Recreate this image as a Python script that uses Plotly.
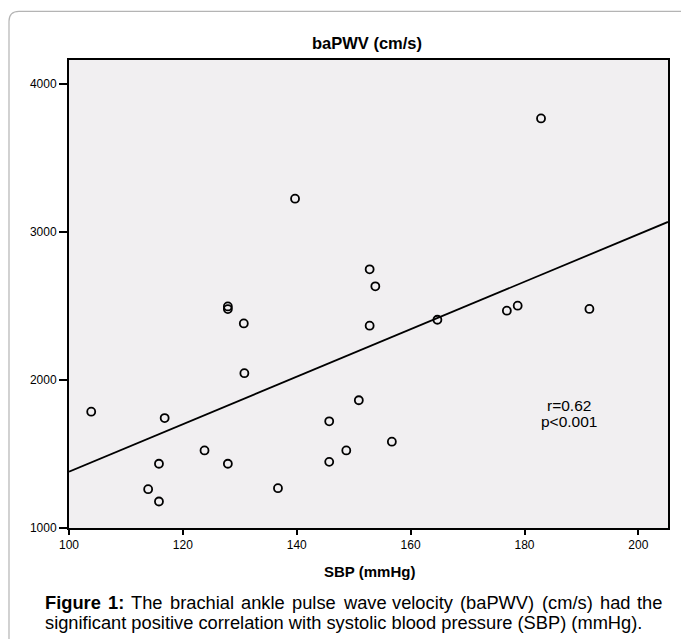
import plotly.graph_objects as go

# Data
sbp = [139.7, 152.8, 153.8, 182.9, 127.9, 127.9, 130.7, 152.8, 130.8, 103.9,
       116.8, 150.9, 145.7, 123.8, 148.7, 115.8, 127.9, 145.7, 113.9, 115.8,
       136.7, 164.7, 176.9, 178.8, 191.4, 156.7]
bapwv = [3225, 2748, 2633, 3767, 2497, 2479, 2382, 2367, 2046, 1786,
         1743, 1863, 1721, 1524, 1524, 1434, 1434, 1447, 1262, 1179,
         1269, 2407, 2468, 2502, 2480, 1583]
fit_x = [100, 205.2]
fit_y = [1381, 3068]
x_ticks = [100, 120, 140, 160, 180, 200]
y_ticks = [1000, 2000, 3000, 4000]

title_text = "baPWV (cm/s)"
xtitle_text = "SBP (mmHg)"
stat_lines = ["r=0.62", "p<0.001"]
caption_bold = "Figure 1:"
caption_line1 = "The brachial ankle pulse wave velocity (baPWV) (cm/s) had the"
caption_line2 = "significant positive correlation with systolic blood pressure (SBP) (mmHg)."

W, H = 681, 639
L, R, T, B = 69.3, 668.3, 60.3, 527.7

def px(xp):
    return (xp - L) / (R - L)

def py(yp):
    return (B - yp) / (B - T)

# Arial / Liberation Sans advance widths (1/1000 em) for justification
REG = {" ": 278, "(": 333, ")": 333, ".": 278, ",": 278, "/": 278, ":": 278,
       "<": 584, "=": 584}
REG.update({d: 556 for d in "0123456789"})
REG.update(dict(zip("ABCDEFGHIJKLMNOPQRSTUVWXYZ",
                    [667, 667, 722, 722, 667, 611, 778, 722, 278, 500, 667, 556, 833,
                     722, 778, 667, 778, 722, 667, 611, 722, 667, 944, 667, 667, 611])))
REG.update(dict(zip("abcdefghijklmnopqrstuvwxyz",
                    [556, 556, 500, 556, 556, 278, 556, 556, 222, 222, 500, 222, 833,
                     556, 556, 556, 556, 333, 500, 278, 556, 500, 722, 500, 500, 500])))
BOLD = dict(REG)
BOLD.update({":": 333, "i": 278, "g": 611, "u": 611, "r": 389, "F": 611})

def text_w(s, size, bold=False):
    tab = BOLD if bold else REG
    return sum(tab.get(c, 556) for c in s) * size / 1000.0

font = "Liberation Sans, Arial, sans-serif"

fig = go.Figure()
fig.add_trace(go.Scatter(x=fit_x, y=fit_y, mode="lines",
                         line=dict(color="black", width=1.8),
                         hoverinfo="skip", showlegend=False))
fig.add_trace(go.Scatter(x=sbp, y=bapwv, mode="markers",
                         marker=dict(symbol="circle-open", size=8,
                                     color="black", line=dict(width=1.8)),
                         showlegend=False))

fig.update_layout(
    width=W, height=H,
    margin=dict(l=L, r=W - R, t=T, b=H - B, pad=0),
    paper_bgcolor="white",
    plot_bgcolor="#f1eff1",
    font=dict(family=font, color="black", size=12),
    xaxis=dict(range=[100, 205.2], tickvals=x_ticks, ticks="outside",
               ticklen=5, tickwidth=1.5, tickcolor="black",
               showline=True, linecolor="black", linewidth=2, mirror=True,
               showgrid=False, zeroline=False,
               tickfont=dict(size=12, family=font)),
    yaxis=dict(range=[1000, 4162], tickvals=y_ticks, ticks="outside",
               ticklen=8, tickwidth=1.5, tickcolor="black",
               showline=True, linecolor="black", linewidth=2, mirror=True,
               showgrid=False, zeroline=False,
               tickfont=dict(size=12, family=font)),
    showlegend=False,
)

# Outer rounded frame
x0, y0, r = 9.3, 11.7, 10
path = (f"M {px(x0)},{py(H + 5)} L {px(x0)},{py(y0 + r)} "
        f"Q {px(x0)},{py(y0)} {px(x0 + r)},{py(y0)} L {px(W + 5)},{py(y0)}")
fig.add_shape(type="path", path=path, xref="paper", yref="paper",
              line=dict(color="#b4b4b4", width=1.2))

ann = []
ann.append(dict(text=f"<b>{title_text}</b>", x=px(367), y=py(43.5),
                font=dict(size=16.5, family=font)))
ann.append(dict(text=f"<b>{xtitle_text}</b>", x=px(370), y=py(571.5),
                font=dict(size=15, family=font)))
ann.append(dict(text=stat_lines[0], x=px(569.3), y=py(405),
                font=dict(size=15.5, family=font)))
ann.append(dict(text=stat_lines[1].replace("<", "&lt;"), x=px(569.3), y=py(421.7),
                font=dict(size=15.5, family=font)))

# Caption: first line justified word by word, second line left aligned
cap_size = 18.3
cap_left, cap_right = 44, 662
words = [(w, True) for w in caption_bold.split()] + [(w, False) for w in caption_line1.split()]
widths = [text_w(w, cap_size, b) for w, b in words]
gap = (cap_right - cap_left - sum(widths)) / (len(words) - 1)
xpos = cap_left
for (w, b), wd in zip(words, widths):
    t = f"<b>{w}</b>" if b else w
    ann.append(dict(text=t, x=px(xpos), y=py(601.7), xanchor="left",
                    font=dict(size=cap_size, family=font)))
    xpos += wd + gap
ann.append(dict(text=caption_line2, x=px(cap_left), y=py(621.7), xanchor="left",
                font=dict(size=cap_size, family=font)))

for a in ann:
    a.setdefault("xanchor", "center")
    a.update(xref="paper", yref="paper", yanchor="middle", showarrow=False,
             borderpad=0)
fig.update_layout(annotations=ann)

fig.write_html("out.html",
               config={"displayModeBar": False},
               post_script="document.body.style.margin='0';document.body.style.overflow='hidden';")
